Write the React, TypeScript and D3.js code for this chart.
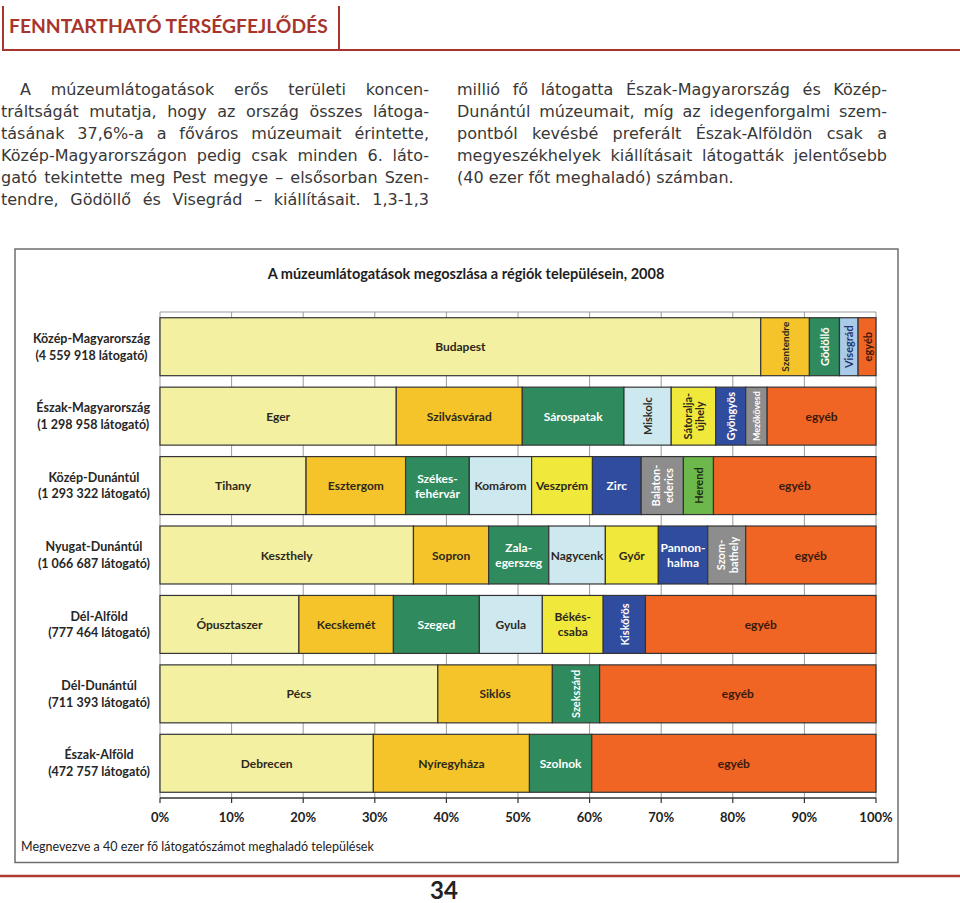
import React, { useEffect, useRef } from 'react';
import * as d3 from 'd3';

// ---------- DATA ----------
const regionNames = [
  'Közép-Magyarország',
  'Észak-Magyarország',
  'Közép-Dunántúl',
  'Nyugat-Dunántúl',
  'Dél-Alföld',
  'Dél-Dunántúl',
  'Észak-Alföld',
];
const regionVisitors = ['4 559 918', '1 298 958', '1 293 322', '1 066 687', '777 464', '711 393', '472 757'];

const kozepMagyarorszagCities = ['Budapest', 'Szentendre', 'Gödöllő', 'Visegrád', 'egyéb'];
const kozepMagyarorszagShares = [83.9, 6.8, 4.2, 2.6, 2.5];

const eszakMagyarorszagCities = ['Eger', 'Szilvásvárad', 'Sárospatak', 'Miskolc', 'Sátoralja-|újhely', 'Gyöngyös', 'Mezőkövesd', 'egyéb'];
const eszakMagyarorszagShares = [33.0, 17.6, 14.2, 6.6, 6.2, 4.2, 3.0, 15.2];

const kozepDunantulCities = ['Tihany', 'Esztergom', 'Székes-|fehérvár', 'Komárom', 'Veszprém', 'Zirc', 'Balaton-|ederics', 'Herend', 'egyéb'];
const kozepDunantulShares = [20.4, 13.9, 8.9, 8.7, 8.5, 6.8, 5.9, 4.2, 22.7];

const nyugatDunantulCities = ['Keszthely', 'Sopron', 'Zala-|egerszeg', 'Nagycenk', 'Győr', 'Pannon-|halma', 'Szom-|bathely', 'egyéb'];
const nyugatDunantulShares = [35.4, 10.5, 8.4, 7.9, 7.4, 6.9, 5.3, 18.2];

const delAlfoldCities = ['Ópusztaszer', 'Kecskemét', 'Szeged', 'Gyula', 'Békés-|csaba', 'Kiskőrös', 'egyéb'];
const delAlfoldShares = [19.4, 13.2, 12.0, 8.8, 8.5, 5.9, 32.2];

const delDunantulCities = ['Pécs', 'Siklós', 'Szekszárd', 'egyéb'];
const delDunantulShares = [38.8, 16.0, 6.6, 38.6];

const eszakAlfoldCities = ['Debrecen', 'Nyíregyháza', 'Szolnok', 'egyéb'];
const eszakAlfoldShares = [29.8, 21.8, 8.7, 39.7];

const verticalLabels = [
  'Szentendre', 'Gödöllő', 'Visegrád', 'Miskolc', 'Sátoralja-|újhely', 'Gyöngyös', 'Mezőkövesd',
  'Balaton-|ederics', 'Herend', 'Szom-|bathely', 'Kiskőrös', 'Szekszárd',
];
const row0Vertical = ['egyéb'];

const xTicks = [0, 10, 20, 30, 40, 50, 60, 70, 80, 90, 100];

const headerTitle = 'FENNTARTHATÓ TÉRSÉGFEJLŐDÉS';
const chartTitle = 'A múzeumlátogatások megoszlása a régiók településein, 2008';
const footnote = 'Megnevezve a 40 ezer fő látogatószámot meghaladó települések';
const pageNumber = '34';

const leftParagraph = [
  'A múzeumlátogatások erős területi koncen-',
  'tráltságát mutatja, hogy az ország összes látoga-',
  'tásának 37,6%-a a főváros múzeumait érintette,',
  'Közép-Magyarországon pedig csak minden 6. láto-',
  'gató tekintette meg Pest megye – elsősorban Szen-',
  'tendre, Gödöllő és Visegrád – kiállításait. 1,3-1,3',
];
const rightParagraph = [
  'millió fő látogatta Észak-Magyarország és Közép-',
  'Dunántúl múzeumait, míg az idegenforgalmi szem-',
  'pontból kevésbé preferált Észak-Alföldön csak a',
  'megyeszékhelyek kiállításait látogatták jelentősebb',
  '(40 ezer főt meghaladó) számban.',
];

// ---------- STYLE ----------
const rankColors = ['#f3f0a1', '#f4c42a', '#2f8b5e', '#cee8ef', '#f0e83b', '#2f4c9e', '#8d8d8d', '#6cb84a'];
const rankText = ['#2d281c', '#2d281c', '#ffffff', '#2d281c', '#2d281c', '#ffffff', '#ffffff', '#1f2a14'];
const otherColor = '#f06424';
const otherText = '#3a1a0c';
const visegradColor = '#a9cbe9';
const labelFont = 'Lato, "DejaVu Sans", sans-serif';
const bodyFont = '"DejaVu Sans", sans-serif';

export default function App() {
  const ref = useRef<SVGSVGElement | null>(null);

  useEffect(() => {
    const svg = d3.select(ref.current);
    svg.selectAll('*').remove();

    const measure = (txt: string, size: number, weight: number | string, family: string) => {
      const t = svg.append('text')
        .attr('font-family', family)
        .attr('font-size', size)
        .attr('font-weight', weight)
        .text(txt);
      const w = (t.node() as SVGTextElement).getComputedTextLength();
      t.remove();
      return w;
    };

    // ---- header ----
    const red = '#a8352d';
    svg.append('path')
      .attr('d', 'M3,6 V50 H960 M339,6 V50')
      .attr('fill', 'none')
      .attr('stroke', red)
      .attr('stroke-width', 2);
    svg.append('text')
      .attr('x', 9).attr('y', 33)
      .attr('font-family', labelFont)
      .attr('font-weight', 700)
      .attr('font-size', 19.3)
      .attr('fill', red)
      .text(headerTitle);

    // ---- justified body text ----
    const drawPara = (lines: string[], x0: number, x1: number, y0: number, lh: number, indent: number, lastLeft: boolean) => {
      const size = 16;
      const g = svg.append('g')
        .attr('font-family', bodyFont)
        .attr('font-size', size)
        .attr('fill', '#383838');
      const spaceW = measure('a a', size, 400, bodyFont) - measure('aa', size, 400, bodyFont);
      lines.forEach((line, i) => {
        const words = line.split(' ');
        const start = x0 + (i === 0 ? indent : 0);
        const widths = words.map((w) => measure(w, size, 400, bodyFont));
        const sum = d3.sum(widths);
        const justify = !(lastLeft && i === lines.length - 1);
        const gap = justify && words.length > 1 ? Math.max(3, (x1 - start - sum) / (words.length - 1)) : spaceW;
        let cx = start;
        words.forEach((w, k) => {
          g.append('text').attr('x', cx).attr('y', y0 + i * lh).text(w);
          cx += widths[k] + gap;
        });
      });
    };
    drawPara(leftParagraph, 1, 429, 95, 21.9, 19, false);
    drawPara(rightParagraph, 457, 887, 95, 21.9, 0, true);

    // ---- chart box ----
    svg.append('rect')
      .attr('x', 15).attr('y', 249)
      .attr('width', 883).attr('height', 613.5)
      .attr('fill', '#fff')
      .attr('stroke', '#6e6e6e')
      .attr('stroke-width', 1.5);

    svg.append('text')
      .attr('x', 466).attr('y', 273)
      .attr('text-anchor', 'middle')
      .attr('dominant-baseline', 'central')
      .attr('font-family', labelFont)
      .attr('font-weight', 700)
      .attr('font-size', 14.5)
      .attr('fill', '#1e1e1e')
      .text(chartTitle);

    const x = d3.scaleLinear().domain([0, 100]).range([160, 876]);
    const y = d3.scaleBand<string>().domain(regionNames).range([312, 798]).paddingInner(0.165).paddingOuter(0.0825);

    // grid
    const grid = svg.append('g');
    grid.selectAll('line.v').data(xTicks).join('line')
      .attr('x1', (d) => x(d)).attr('x2', (d) => x(d))
      .attr('y1', 312).attr('y2', 798)
      .attr('stroke', '#9c9c9c').attr('stroke-width', 1);
    grid.append('line')
      .attr('x1', x(0)).attr('x2', x(100)).attr('y1', 312).attr('y2', 312)
      .attr('stroke', '#9c9c9c').attr('stroke-width', 1.2);

    const rowCities = [
      kozepMagyarorszagCities, eszakMagyarorszagCities, kozepDunantulCities, nyugatDunantulCities,
      delAlfoldCities, delDunantulCities, eszakAlfoldCities,
    ];
    const rowShares = [
      kozepMagyarorszagShares, eszakMagyarorszagShares, kozepDunantulShares, nyugatDunantulShares,
      delAlfoldShares, delDunantulShares, eszakAlfoldShares,
    ];

    const bw = y.bandwidth();
    regionNames.forEach((region, r) => {
      const y0 = y(region)!;
      const cy = y0 + bw / 2;
      const cities = rowCities[r];
      const shares = rowShares[r];
      const ends = Array.from(d3.cumsum(shares));
      const g = svg.append('g');
      cities.forEach((city, i) => {
        const s = i === 0 ? 0 : ends[i - 1];
        const e = ends[i];
        const isOther = city === 'egyéb';
        let fill = isOther ? otherColor : rankColors[i];
        if (city === 'Visegrád') fill = visegradColor;
        const tfill = isOther ? otherText : city === 'Visegrád' ? '#24356a' : rankText[i];
        const x0 = x(s);
        const w = x(e) - x(s);
        g.append('rect')
          .attr('x', x0).attr('y', y0)
          .attr('width', w).attr('height', bw)
          .attr('fill', fill)
          .attr('stroke', '#353535')
          .attr('stroke-width', 1.2);

        const lines = city.split('|');
        const vertical = verticalLabels.includes(city) || (r === 0 && row0Vertical.includes(city));
        const cx = x0 + w / 2;
        if (vertical) {
          let fs = 11;
          const maxLen = d3.max(lines, (l) => measure(l, fs, 700, labelFont))!;
          if (maxLen > bw - 8) fs = fs * (bw - 8) / maxLen;
          const lg = g.append('g').attr('transform', `translate(${cx},${cy}) rotate(-90)`);
          const gap = fs * 1.15;
          lines.forEach((l, k) => {
            lg.append('text')
              .attr('x', 0)
              .attr('y', (k - (lines.length - 1) / 2) * gap)
              .attr('text-anchor', 'middle')
              .attr('dominant-baseline', 'central')
              .attr('font-family', labelFont)
              .attr('font-weight', 700)
              .attr('font-size', fs)
              .attr('fill', tfill)
              .text(l);
          });
        } else {
          let fs = 12;
          const maxLen = d3.max(lines, (l) => measure(l, fs, 700, labelFont))!;
          if (maxLen > w - 4) fs = fs * (w - 4) / maxLen;
          const gap = 15;
          lines.forEach((l, k) => {
            g.append('text')
              .attr('x', cx)
              .attr('y', cy + (k - (lines.length - 1) / 2) * gap)
              .attr('text-anchor', 'middle')
              .attr('dominant-baseline', 'central')
              .attr('font-family', labelFont)
              .attr('font-weight', 700)
              .attr('font-size', fs)
              .attr('fill', tfill)
              .text(l);
          });
        }
      });

      // region label
      const l1 = region;
      const l2 = `(${regionVisitors[r]} látogató)`;
      const fs = 12.5;
      const wMax = Math.max(measure(l1, fs, 700, labelFont), measure(l2, fs, 700, labelFont));
      const lx = 150 - wMax / 2;
      [l1, l2].forEach((t, k) => {
        svg.append('text')
          .attr('x', lx)
          .attr('y', cy + (k === 0 ? -8.4 : 8.4))
          .attr('text-anchor', 'middle')
          .attr('dominant-baseline', 'central')
          .attr('font-family', labelFont)
          .attr('font-weight', 700)
          .attr('font-size', fs)
          .attr('fill', '#262626')
          .text(t);
      });
    });

    // axis
    const axisG = svg.append('g');
    axisG.append('line')
      .attr('x1', x(0)).attr('x2', x(100)).attr('y1', 798).attr('y2', 798)
      .attr('stroke', '#333').attr('stroke-width', 1.5);
    axisG.selectAll('line.t').data(xTicks).join('line')
      .attr('x1', (d) => x(d)).attr('x2', (d) => x(d))
      .attr('y1', 798).attr('y2', 803)
      .attr('stroke', '#333').attr('stroke-width', 1.2);
    axisG.selectAll('text').data(xTicks).join('text')
      .attr('x', (d) => x(d)).attr('y', 816.5)
      .attr('text-anchor', 'middle')
      .attr('dominant-baseline', 'central')
      .attr('font-family', labelFont)
      .attr('font-weight', 700)
      .attr('font-size', 13)
      .attr('fill', '#222')
      .text((d) => `${d}%`);

    svg.append('text')
      .attr('x', 21).attr('y', 846.5)
      .attr('dominant-baseline', 'central')
      .attr('font-family', labelFont)
      .attr('font-size', 12.5)
      .attr('fill', '#222')
      .text(footnote);

    // footer
    svg.append('line')
      .attr('x1', 0).attr('x2', 960).attr('y1', 876).attr('y2', 876)
      .attr('stroke', '#b03a30').attr('stroke-width', 2.5);
    svg.append('text')
      .attr('x', 444).attr('y', 899)
      .attr('text-anchor', 'middle')
      .attr('font-family', labelFont)
      .attr('font-weight', 700)
      .attr('font-size', 24)
      .attr('fill', '#222')
      .text(pageNumber);
  }, []);

  return (
    <svg
      ref={ref}
      width={960}
      height={903}
      style={{ position: 'absolute', left: 0, top: 0, display: 'block', background: '#fff' }}
    />
  );
}
